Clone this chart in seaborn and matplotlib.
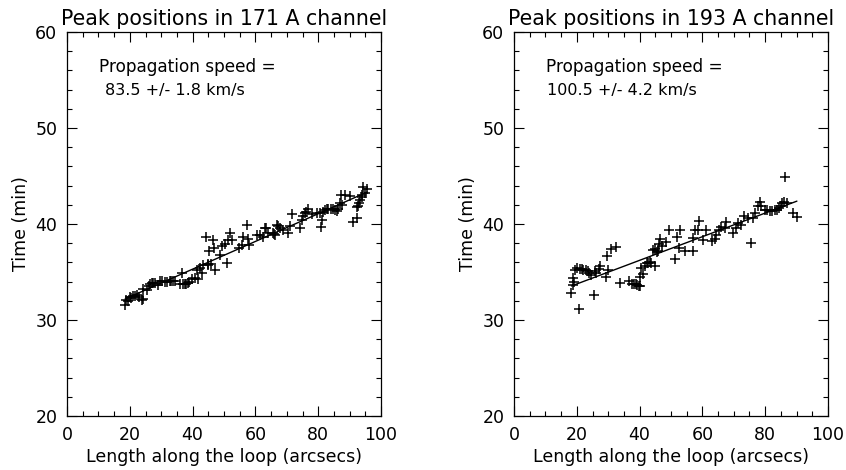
import numpy as np
import pandas as pd
import matplotlib
matplotlib.use("Agg")
import matplotlib.pyplot as plt
import seaborn as sns
from matplotlib.ticker import MultipleLocator

# ---------- data ----------

len_171 = [18.5, 18.8, 19.5, 20.1, 20.5, 21.1, 21.5, 22.2, 23.0, 23.8, 24.1, 24.3, 25.4,
           26.0, 26.4, 27.0, 27.5, 28.0, 29.1, 29.6, 30.3, 31.2, 31.8, 32.8, 33.0, 33.9,
           34.5, 36.0, 36.5, 37.0, 37.5, 38.0, 38.6, 39.0, 39.7, 40.8, 41.3, 41.8, 42.4,
           42.9, 43.4, 44.3, 44.8, 45.0, 45.3, 45.7, 46.6, 46.9, 47.1, 48.7, 49.5, 50.3,
           50.8, 51.4, 51.9, 52.4, 54.9, 55.6, 56.2, 57.2, 57.7, 58.1, 60.4, 61.5, 62.5,
           63.1, 63.5, 64.1, 65.7, 66.0, 66.3, 66.8, 67.3, 67.8, 68.7, 70.5, 71.0, 71.5,
           74.2, 74.7, 75.2, 75.8, 76.2, 76.9, 77.9, 79.5, 80.6, 80.8, 81.1, 81.5, 82.2,
           82.7, 83.2, 84.0, 84.8, 85.3, 85.9, 86.3, 86.9, 87.2, 87.5, 88.5, 90.1, 91.2,
           92.2, 92.5, 92.8, 93.0, 93.3, 93.8, 94.0, 94.4, 94.9, 95.6]
time_171 = [31.6, 32.1, 32.0, 32.4, 32.3, 32.5, 32.5, 32.6, 32.4, 32.1, 32.2, 33.2, 33.1,
            33.5, 33.8, 33.9, 33.9, 33.9, 33.6, 34.1, 34.1, 34.0, 34.0, 34.1, 34.1, 34.1,
            34.1, 33.7, 34.9, 33.7, 33.7, 33.8, 33.9, 34.0, 34.3, 34.4, 35.2, 34.3, 35.4,
            34.9, 35.7, 38.6, 35.8, 35.7, 37.2, 35.8, 38.3, 37.5, 35.2, 36.8, 37.7, 37.9,
            35.9, 38.3, 39.1, 38.3, 37.5, 37.8, 38.6, 39.9, 38.4, 37.8, 38.9, 38.9, 38.6,
            39.6, 39.6, 39.1, 39.1, 39.0, 38.9, 39.9, 39.8, 39.6, 39.4, 39.1, 39.8, 41.0,
            39.6, 40.4, 40.8, 41.1, 41.3, 41.6, 41.0, 41.1, 41.1, 39.7, 40.4, 41.3, 41.5,
            41.6, 41.6, 41.6, 41.6, 41.5, 41.4, 41.6, 42.2, 43.0, 42.0, 43.0, 42.9, 40.2,
            40.6, 41.8, 41.9, 42.2, 42.5, 43.0, 42.8, 43.9, 43.2, 43.6]

len_193 = [18.3, 18.8, 18.8, 19.0, 19.3, 19.9, 20.6, 20.9, 21.5, 22.0, 22.8, 23.6, 24.0,
           24.6, 25.5, 25.7, 26.2, 27.0, 27.3, 29.2, 29.6, 29.9, 31.0, 32.4, 33.7, 36.6,
           37.7, 38.2, 38.7, 39.3, 39.8, 40.0, 40.2, 40.6, 41.2, 41.6, 42.2, 42.7, 43.2,
           43.7, 44.3, 44.8, 45.0, 45.5, 45.9, 46.2, 46.6, 47.2, 48.5, 49.4, 51.4, 51.9,
           52.5, 53.0, 54.4, 57.0, 57.0, 57.6, 58.6, 58.9, 60.2, 61.0, 63.2, 63.9, 64.4,
           65.3, 65.8, 67.1, 67.6, 69.7, 70.6, 71.3, 72.4, 73.1, 74.5, 75.6, 76.1, 76.9,
           77.7, 78.2, 78.8, 79.8, 80.5, 81.4, 82.2, 83.0, 83.7, 84.4, 85.0, 85.5, 86.0,
           86.2, 87.0, 88.9, 90.1]
time_193 = [32.8, 33.6, 34.4, 34.0, 35.2, 35.4, 31.1, 35.3, 35.3, 35.2, 35.2, 35.1, 34.9,
            34.7, 32.6, 35.1, 34.9, 35.3, 35.6, 34.5, 36.7, 35.2, 37.4, 37.6, 33.9, 34.1,
            33.8, 33.7, 33.7, 33.6, 33.5, 33.5, 34.5, 35.4, 34.8, 35.6, 35.9, 35.9, 36.0,
            35.9, 37.3, 37.4, 35.6, 37.1, 37.2, 37.9, 38.4, 37.7, 38.1, 39.4, 36.4, 38.6,
            37.5, 39.4, 37.2, 38.5, 37.2, 39.4, 39.4, 40.3, 38.3, 39.4, 38.2, 38.4, 38.9,
            39.4, 39.7, 39.6, 40.2, 39.1, 39.6, 40.1, 39.9, 40.8, 40.6, 38.0, 40.6, 41.1,
            41.9, 42.3, 41.9, 41.5, 41.5, 41.4, 41.4, 41.5, 41.5, 41.7, 41.9, 42.2, 42.3,
            44.9, 42.2, 41.1, 40.7]

titles = ["Peak positions in 171 A channel", "Peak positions in 193 A channel"]
speeds = ["83.5 +/- 1.8 km/s", "100.5 +/- 4.2 km/s"]

# ---------- style ----------

sns.set_style("ticks")
plt.rcParams["font.family"] = ["DejaVu Sans"]
plt.rcParams["text.color"] = "black"
plt.rcParams["axes.labelcolor"] = "black"
plt.rcParams["axes.linewidth"] = 0.9

fig = plt.figure(figsize=(8.46, 4.70), dpi=100)
panels = [
    (fig.add_axes([0.0792, 0.1149, 0.3712, 0.8170]), len_171, time_171),
    (fig.add_axes([0.6076, 0.1149, 0.3711, 0.8170]), len_193, time_193),
]

for i, (ax, xs, ys) in enumerate(panels):
    df = pd.DataFrame({"length": xs, "time": ys})
    sns.regplot(
        data=df, x="length", y="time", ax=ax, ci=None, color="black",
        marker="+", scatter_kws={"s": 45, "linewidths": 1.1, "alpha": 1},
        line_kws={"lw": 1.0},
    )
    ax.set_xlim(0, 100)
    ax.set_ylim(20, 60)
    ax.xaxis.set_major_locator(MultipleLocator(20))
    ax.xaxis.set_minor_locator(MultipleLocator(5))
    ax.yaxis.set_major_locator(MultipleLocator(10))
    ax.yaxis.set_minor_locator(MultipleLocator(2))
    ax.tick_params(which="both", direction="in", top=True, right=True,
                   colors="black", width=0.8)
    ax.tick_params(which="major", length=7, labelsize=12.5, pad=7)
    ax.tick_params(which="minor", length=3.5)
    for sp in ax.spines.values():
        sp.set_visible(True)
        sp.set_color("black")
    ax.set_xlabel("Length along the loop (arcsecs)", fontsize=12.5, labelpad=3)
    ax.set_ylabel("Time (min)", fontsize=12.5, labelpad=4)
    ax.set_title(titles[i], fontsize=14.8, pad=5)
    ax.text(10.3, 56.4, "Propagation speed =", fontsize=12.2, va="center", ha="left")
    ax.text(12.2 if i == 0 else 10.5, 53.9, speeds[i], fontsize=11.5,
            va="center", ha="left")

fig.savefig("out.png", dpi=100, facecolor="white")
